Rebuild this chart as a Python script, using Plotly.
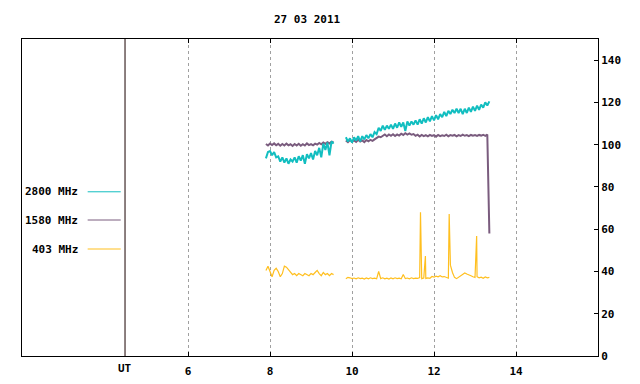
import plotly.graph_objects as go

# ---- data (hours UT, solar flux units) ----
t_a = [7.90, 7.95, 8.00, 8.05, 8.10, 8.15, 8.20, 8.25, 8.30, 8.35,
       8.40, 8.45, 8.50, 8.55, 8.60, 8.65, 8.70, 8.75, 8.80, 8.85,
       8.90, 8.95, 9.00, 9.05, 9.10, 9.15, 9.20, 9.25, 9.30, 9.35,
       9.40, 9.45, 9.50, 9.55]
t_b = [9.85, 9.90, 9.95, 10.00, 10.05, 10.10, 10.15, 10.20, 10.25, 10.30,
       10.35, 10.40, 10.45, 10.50, 10.55, 10.60, 10.65, 10.70, 10.75, 10.80,
       10.85, 10.90, 10.95, 11.00, 11.05, 11.10, 11.15, 11.20, 11.25, 11.30,
       11.35, 11.40, 11.45, 11.50, 11.55, 11.60, 11.65, 11.70, 11.75, 11.80,
       11.85, 11.90, 11.95, 12.00, 12.05, 12.10, 12.15, 12.20, 12.25, 12.30,
       12.35, 12.40, 12.45, 12.50, 12.55, 12.60, 12.65, 12.70, 12.75, 12.80,
       12.85, 12.90, 12.95, 13.00, 13.05, 13.10, 13.15, 13.20, 13.25, 13.30,
       13.35]

f2800_a = [93.5, 96.5, 97.0, 95.0, 96.5, 94.0, 94.5, 92.0, 94.0, 91.5,
           93.5, 91.0, 93.0, 92.0, 94.0, 91.5, 94.5, 92.5, 95.0, 91.0,
           95.5, 93.5, 96.0, 93.0, 97.0, 95.0, 98.5, 94.0, 100.5, 97.5,
           101.0, 95.0, 101.5, 100.5]
f2800_b = [103.5, 101.5, 103.0, 101.0, 103.5, 102.0, 104.0, 101.5, 104.0, 102.5,
           104.5, 103.0, 105.0, 103.5, 106.0, 105.0, 108.0, 106.5, 109.0, 107.0,
           109.0, 107.5, 109.5, 107.5, 110.0, 108.0, 110.5, 108.5, 110.5, 106.5,
           111.0, 109.0, 111.0, 109.5, 111.5, 109.5, 112.0, 110.0, 112.5, 110.5,
           113.0, 111.0, 113.5, 111.5, 114.0, 112.0, 114.5, 113.0, 115.5, 113.5,
           116.0, 114.5, 116.5, 115.0, 117.0, 115.0, 117.0, 114.5, 117.0, 115.0,
           117.5, 115.5, 118.0, 116.0, 118.5, 116.5, 119.0, 117.5, 120.0, 118.5,
           120.5]

f1580_a = [100.3, 99.6, 100.5, 99.8, 100.6, 99.7, 100.4, 99.5, 100.3, 99.6,
           100.5, 99.7, 100.2, 99.4, 100.3, 99.6, 100.4, 99.5, 100.2, 99.6,
           100.6, 99.8, 100.3, 99.7, 100.5, 100.0, 100.8, 100.2, 101.0, 100.4,
           101.2, 100.6, 101.4, 101.0]
f1580_b = [102.0, 101.2, 102.2, 101.5, 102.0, 101.3, 102.3, 101.5, 102.0, 101.2,
           102.2, 101.6, 102.3, 101.8, 102.5, 103.0, 103.8, 103.5, 104.3, 104.8,
           104.0, 104.8, 104.2, 104.9, 104.1, 104.8, 104.3, 105.2, 104.6, 105.4,
           104.8, 105.3, 104.7, 105.0, 104.2, 104.7, 103.9, 104.6, 104.0, 104.5,
           103.9, 104.6, 104.1, 104.5, 103.8, 104.6, 104.0, 104.4, 104.1, 104.7,
           104.0, 104.5, 104.2, 104.6, 103.9, 104.5, 104.1, 104.7, 104.2, 104.5,
           104.0, 104.6, 104.2, 104.5, 104.1, 104.6, 104.3, 104.7, 104.2, 104.8,
           58.0]

f403_a = [40.5, 42.5, 40.0, 37.5, 40.5, 41.5, 40.0, 37.5, 39.0, 42.5,
          42.0, 41.0, 40.0, 38.5, 39.0, 38.0, 39.0, 38.5, 38.0, 39.0,
          38.5, 38.0, 39.0, 38.5, 39.5, 40.5, 39.0, 38.0, 39.5, 38.5,
          39.0, 38.0, 39.0, 38.5]
f403_b = [36.5, 37.2, 37.0, 36.6, 36.9, 36.5, 37.0, 36.6, 36.8, 36.4,
          36.9, 36.5, 37.0, 36.6, 36.8, 36.5, 40.0, 36.6, 37.0, 36.5,
          36.8, 36.4, 36.9, 36.5, 37.0, 36.6, 36.8, 36.5, 38.6, 36.6,
          36.9, 36.5, 37.0, 36.6, 36.8, 36.7, 37.1, 36.6, 36.9, 36.7,
          37.0, 36.8, 37.6, 37.3, 37.8, 37.5, 38.0, 37.4, 37.6, 37.0,
          36.8, 43.0, 39.5, 37.2, 36.6, 37.2, 38.0, 38.6, 39.3, 38.8,
          38.5, 38.0, 37.5, 37.2, 37.5, 37.0, 37.3, 36.8, 37.4, 37.0,
          37.2]
spike_t_403 = [11.67, 11.79, 12.37, 13.04]
spike_v_403 = [68.0, 47.3, 67.2, 56.8]

x_ticks = [6, 8, 10, 12, 14]
y_ticks = [0, 20, 40, 60, 80, 100, 120, 140]
ut_pos = 4.463
title_text = "27 03 2011"
legend_names = ["2800 MHz", "1580 MHz", "403 MHz"]

C2800 = "#12bec0"
C1580 = "#7a5c7e"
C403 = "#ffbf1f"
FONT = dict(family="DejaVu Sans Mono", size=11, color="black", weight="bold")

# merge 403 spikes into segment b
pts = sorted(list(zip(t_b, f403_b)) + list(zip(spike_t_403, spike_v_403)))
t403_b = [p[0] for p in pts]
v403_b = [p[1] for p in pts]

fig = go.Figure()
fig.add_trace(go.Scatter(x=t_a + [None] + t_b, y=f1580_a + [None] + f1580_b,
                         mode="lines", line=dict(color=C1580, width=2)))
fig.add_trace(go.Scatter(x=t_a + [None] + t403_b, y=f403_a + [None] + v403_b,
                         mode="lines", line=dict(color=C403, width=1.2)))
fig.add_trace(go.Scatter(x=t_a + [None] + t_b, y=f2800_a + [None] + f2800_b,
                         mode="lines", line=dict(color=C2800, width=2)))

# UT separator line
fig.add_shape(type="line", xref="x", yref="paper", x0=ut_pos, x1=ut_pos, y0=0, y1=1,
              line=dict(color="#1a0000", width=1))
fig.add_annotation(x=ut_pos, xref="x", y=-0.038, yref="paper", text="UT",
                   showarrow=False, font=FONT, yanchor="middle")

# legend drawn in the left panel
leg_y = [0.518, 0.429, 0.3375]
leg_c = [C2800, C1580, C403]
for name, yy, cc in zip(legend_names, leg_y, leg_c):
    fig.add_annotation(x=0.1007, xref="paper", y=yy, yref="paper", text=name,
                       showarrow=False, font=FONT, xanchor="right", yanchor="middle")
    fig.add_shape(type="line", xref="paper", yref="paper", x0=0.114, x1=0.1714,
                  y0=yy, y1=yy, line=dict(color=cc, width=1))

fig.add_annotation(x=0.4965, xref="paper", y=1.063, yref="paper", text=title_text,
                   showarrow=False, font=FONT, xanchor="center", yanchor="middle")

# page body has an 8px margin: size the figure so the plot frame lands at 22..598 x 39..356
fig.update_layout(
    width=632, height=376,
    margin=dict(l=14, r=42, t=31, b=28),
    paper_bgcolor="white", plot_bgcolor="white",
    showlegend=False,
    font=FONT,
)
fig.update_xaxes(range=[1.95, 16.0], tickvals=x_ticks, ticktext=[str(v) for v in x_ticks],
                 ticks="inside", ticklen=4, tickcolor="black", mirror="ticks",
                 showline=True, linecolor="black", linewidth=1,
                 showgrid=True, gridcolor="#a0a0a0", griddash="dot", gridwidth=1,
                 zeroline=False, tickfont=FONT, ticklabelstandoff=5, automargin=False)
fig.update_yaxes(range=[0, 150], tickvals=y_ticks, side="right",
                 ticks="inside", ticklen=4, tickcolor="black", mirror=True,
                 showline=True, linecolor="black", linewidth=1,
                 showgrid=False, zeroline=False, tickfont=FONT, automargin=False)

fig.write_html("out.html")
